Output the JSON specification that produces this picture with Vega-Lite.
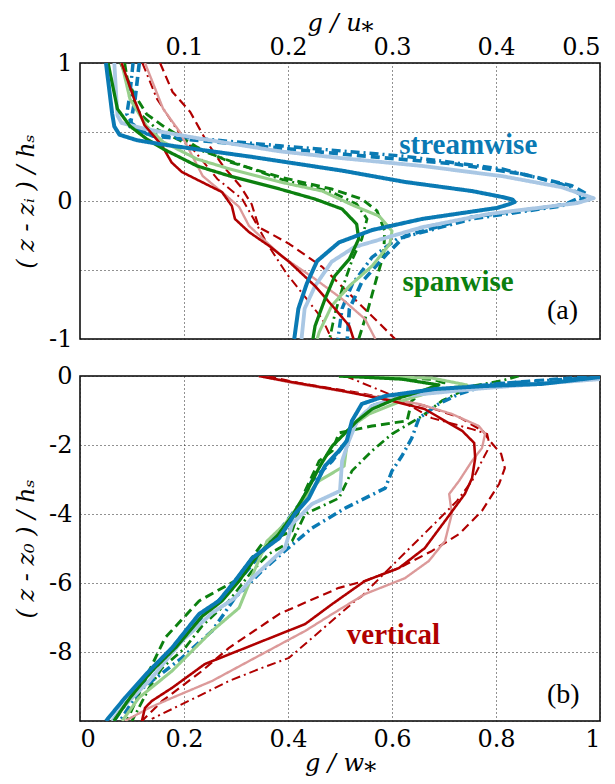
{
"$schema": "https://vega.github.io/schema/vega-lite/v6.json",
"background": "white",
"padding": {"left": 13, "top": 10, "right": 5, "bottom": 0},
"spacing": 11,
"config": {
 "view": {"stroke": "black", "strokeWidth": 1.5},
 "axis": {"grid": true, "gridDash": [1, 3], "gridColor": "#222", "gridWidth": 1, "domain": false, "ticks": false,
  "labelFont": "DejaVu Serif", "labelFontSize": 24, "labelColor": "black", "labelPadding": 4,
  "titleFont": "DejaVu Serif", "titleFontSize": 24, "titleFontWeight": "normal", "titleFontStyle": "italic", "titleColor": "black", "titlePadding": 2}
},
"datasets": {
"a": [
{"s":"v4","x":0.06,"y":1},{"s":"v4","x":0.074,"y":0.74},{"s":"v4","x":0.093,"y":0.52},{"s":"v4","x":0.1125,"y":0.34},{"s":"v4","x":0.132,"y":0.16},{"s":"v4","x":0.156,"y":0.014},{"s":"v4","x":0.167,"y":-0.13},{"s":"v4","x":0.18,"y":-0.31},{"s":"v4","x":0.199,"y":-0.53},{"s":"v4","x":0.218,"y":-0.71},{"s":"v4","x":0.233,"y":-0.855},{"s":"v4","x":0.242,"y":-1.0},
{"s":"v3","x":0.077,"y":1},{"s":"v3","x":0.089,"y":0.79},{"s":"v3","x":0.106,"y":0.645},{"s":"v3","x":0.122,"y":0.428},{"s":"v3","x":0.1375,"y":0.254},{"s":"v3","x":0.154,"y":0.109},{"s":"v3","x":0.165,"y":-0.022},{"s":"v3","x":0.172,"y":-0.19},{"s":"v3","x":0.201,"y":-0.31},{"s":"v3","x":0.233,"y":-0.478},{"s":"v3","x":0.264,"y":-0.71},{"s":"v3","x":0.2856,"y":-0.87},{"s":"v3","x":0.303,"y":-1.0},
{"s":"p4","x":0.043,"y":1},{"s":"p4","x":0.048,"y":0.775},{"s":"p4","x":0.058,"y":0.63},{"s":"p4","x":0.074,"y":0.52},{"s":"p4","x":0.1125,"y":0.377},{"s":"p4","x":0.192,"y":0.16},{"s":"p4","x":0.242,"y":0.065},{"s":"p4","x":0.266,"y":-0.022},{"s":"p4","x":0.276,"y":-0.13},{"s":"p4","x":0.271,"y":-0.275},{"s":"p4","x":0.262,"y":-0.42},{"s":"p4","x":0.252,"y":-0.64},{"s":"p4","x":0.245,"y":-0.82},{"s":"p4","x":0.24,"y":-1.0},
{"s":"p3","x":0.039,"y":1},{"s":"p3","x":0.051,"y":0.79},{"s":"p3","x":0.064,"y":0.63},{"s":"p3","x":0.08,"y":0.543},{"s":"p3","x":0.1125,"y":0.39},{"s":"p3","x":0.144,"y":0.283},{"s":"p3","x":0.192,"y":0.174},{"s":"p3","x":0.242,"y":0.087},{"s":"p3","x":0.271,"y":0.014},{"s":"p3","x":0.2856,"y":-0.072},{"s":"p3","x":0.293,"y":-0.217},{"s":"p3","x":0.292,"y":-0.384},{"s":"p3","x":0.285,"y":-0.565},{"s":"p3","x":0.277,"y":-0.783},{"s":"p3","x":0.268,"y":-1.0},
{"s":"s4","x":0.051,"y":1},{"s":"s4","x":0.048,"y":0.775},{"s":"s4","x":0.045,"y":0.63},{"s":"s4","x":0.05,"y":0.56},{"s":"s4","x":0.064,"y":0.486},{"s":"s4","x":0.192,"y":0.4},{"s":"s4","x":0.31,"y":0.326},{"s":"s4","x":0.406,"y":0.232},{"s":"s4","x":0.463,"y":0.123},{"s":"s4","x":0.484,"y":0.036},{"s":"s4","x":0.463,"y":-0.036},{"s":"s4","x":0.377,"y":-0.13},{"s":"s4","x":0.305,"y":-0.275},{"s":"s4","x":0.281,"y":-0.406},{"s":"s4","x":0.262,"y":-0.6},{"s":"s4","x":0.252,"y":-0.78},{"s":"s4","x":0.248,"y":-1.0},
{"s":"s3","x":0.057,"y":1},{"s":"s3","x":0.053,"y":0.74},{"s":"s3","x":0.048,"y":0.54},{"s":"s3","x":0.07,"y":0.47},{"s":"s3","x":0.192,"y":0.384},{"s":"s3","x":0.252,"y":0.34},{"s":"s3","x":0.361,"y":0.268},{"s":"s3","x":0.425,"y":0.196},{"s":"s3","x":0.473,"y":0.11},{"s":"s3","x":0.489,"y":0.043},{"s":"s3","x":0.478,"y":-0.007},{"s":"s3","x":0.457,"y":-0.036},{"s":"s3","x":0.377,"y":-0.116},{"s":"s3","x":0.3125,"y":-0.254},{"s":"s3","x":0.295,"y":-0.384},{"s":"s3","x":0.271,"y":-0.587},{"s":"s3","x":0.259,"y":-0.783},{"s":"s3","x":0.257,"y":-1.0},
{"s":"v2","x":0.0625,"y":1},{"s":"v2","x":0.08,"y":0.667},{"s":"v2","x":0.096,"y":0.5},{"s":"v2","x":0.106,"y":0.355},{"s":"v2","x":0.118,"y":0.181},{"s":"v2","x":0.141,"y":0.036},{"s":"v2","x":0.153,"y":-0.043},{"s":"v2","x":0.1625,"y":-0.18},{"s":"v2","x":0.194,"y":-0.4},{"s":"v2","x":0.226,"y":-0.565},{"s":"v2","x":0.252,"y":-0.71},{"s":"v2","x":0.274,"y":-0.855},{"s":"v2","x":0.284,"y":-1.0},
{"s":"p2","x":0.04,"y":1},{"s":"p2","x":0.048,"y":0.74},{"s":"p2","x":0.064,"y":0.543},{"s":"p2","x":0.08,"y":0.428},{"s":"p2","x":0.1125,"y":0.304},{"s":"p2","x":0.144,"y":0.232},{"s":"p2","x":0.192,"y":0.138},{"s":"p2","x":0.233,"y":0.072},{"s":"p2","x":0.264,"y":-0.036},{"s":"p2","x":0.2875,"y":-0.109},{"s":"p2","x":0.3,"y":-0.217},{"s":"p2","x":0.298,"y":-0.31},{"s":"p2","x":0.281,"y":-0.47},{"s":"p2","x":0.259,"y":-0.616},{"s":"p2","x":0.242,"y":-0.76},{"s":"p2","x":0.23,"y":-0.95},{"s":"p2","x":0.228,"y":-1.0},
{"s":"s2","x":0.033,"y":1},{"s":"s2","x":0.035,"y":0.74},{"s":"s2","x":0.036,"y":0.62},{"s":"s2","x":0.04,"y":0.565},{"s":"s2","x":0.064,"y":0.52},{"s":"s2","x":0.117,"y":0.45},{"s":"s2","x":0.192,"y":0.36},{"s":"s2","x":0.252,"y":0.31},{"s":"s2","x":0.329,"y":0.254},{"s":"s2","x":0.406,"y":0.18},{"s":"s2","x":0.463,"y":0.1},{"s":"s2","x":0.494,"y":0.02},{"s":"s2","x":0.478,"y":-0.015},{"s":"s2","x":0.393,"y":-0.094},{"s":"s2","x":0.329,"y":-0.19},{"s":"s2","x":0.264,"y":-0.333},{"s":"s2","x":0.242,"y":-0.44},{"s":"s2","x":0.226,"y":-0.616},{"s":"s2","x":0.216,"y":-0.78},{"s":"s2","x":0.213,"y":-1.0},
{"s":"v1","x":0.04,"y":1},{"s":"v1","x":0.052,"y":0.74},{"s":"v1","x":0.062,"y":0.55},{"s":"v1","x":0.079,"y":0.4},{"s":"v1","x":0.088,"y":0.28},{"s":"v1","x":0.098,"y":0.21},{"s":"v1","x":0.117,"y":0.138},{"s":"v1","x":0.1365,"y":0.065},{"s":"v1","x":0.146,"y":-0.036},{"s":"v1","x":0.149,"y":-0.13},{"s":"v1","x":0.1625,"y":-0.225},{"s":"v1","x":0.182,"y":-0.326},{"s":"v1","x":0.201,"y":-0.44},{"s":"v1","x":0.226,"y":-0.616},{"s":"v1","x":0.245,"y":-0.78},{"s":"v1","x":0.259,"y":-0.906},{"s":"v1","x":0.263,"y":-1.0},
{"s":"p1","x":0.027,"y":1},{"s":"p1","x":0.036,"y":0.667},{"s":"p1","x":0.048,"y":0.543},{"s":"p1","x":0.064,"y":0.45},{"s":"p1","x":0.08,"y":0.377},{"s":"p1","x":0.1125,"y":0.254},{"s":"p1","x":0.144,"y":0.181},{"s":"p1","x":0.192,"y":0.087},{"s":"p1","x":0.226,"y":0.014},{"s":"p1","x":0.252,"y":-0.058},{"s":"p1","x":0.266,"y":-0.167},{"s":"p1","x":0.268,"y":-0.275},{"s":"p1","x":0.259,"y":-0.42},{"s":"p1","x":0.245,"y":-0.543},{"s":"p1","x":0.2356,"y":-0.71},{"s":"p1","x":0.226,"y":-0.906},{"s":"p1","x":0.224,"y":-1.0},
{"s":"s1","x":0.025,"y":1},{"s":"s1","x":0.031,"y":0.63},{"s":"s1","x":0.033,"y":0.54},{"s":"s1","x":0.038,"y":0.48},{"s":"s1","x":0.055,"y":0.44},{"s":"s1","x":0.079,"y":0.41},{"s":"s1","x":0.165,"y":0.32},{"s":"s1","x":0.252,"y":0.22},{"s":"s1","x":0.3125,"y":0.138},{"s":"s1","x":0.377,"y":0.072},{"s":"s1","x":0.406,"y":0.029},{"s":"s1","x":0.416,"y":0.01},{"s":"s1","x":0.418,"y":-0.007},{"s":"s1","x":0.412,"y":-0.025},{"s":"s1","x":0.401,"y":-0.05},{"s":"s1","x":0.329,"y":-0.13},{"s":"s1","x":0.281,"y":-0.21},{"s":"s1","x":0.249,"y":-0.3},{"s":"s1","x":0.228,"y":-0.435},{"s":"s1","x":0.218,"y":-0.6},{"s":"s1","x":0.21,"y":-0.78},{"s":"s1","x":0.206,"y":-1.0}
],
"b": [
{"s":"v4","x":0.51,"y":0.0},{"s":"v4","x":0.594,"y":-0.52},{"s":"v4","x":0.677,"y":-1.22},{"s":"v4","x":0.754,"y":-1.54},{"s":"v4","x":0.783,"y":-1.68},{"s":"v4","x":0.788,"y":-2.03},{"s":"v4","x":0.773,"y":-2.46},{"s":"v4","x":0.754,"y":-3.04},{"s":"v4","x":0.725,"y":-3.62},{"s":"v4","x":0.687,"y":-4.2},{"s":"v4","x":0.638,"y":-4.93},{"s":"v4","x":0.59,"y":-5.65},{"s":"v4","x":0.542,"y":-6.38},{"s":"v4","x":0.529,"y":-6.52},{"s":"v4","x":0.402,"y":-8.17},{"s":"v4","x":0.35,"y":-8.46},{"s":"v4","x":0.2865,"y":-8.84},{"s":"v4","x":0.221,"y":-9.33},{"s":"v4","x":0.138,"y":-9.94},
{"s":"v3","x":0.36,"y":0.0},{"s":"v3","x":0.42,"y":-0.2},{"s":"v3","x":0.54,"y":-0.5},{"s":"v3","x":0.66,"y":-0.85},{"s":"v3","x":0.73,"y":-1.2},{"s":"v3","x":0.775,"y":-1.6},{"s":"v3","x":0.788,"y":-1.88},{"s":"v3","x":0.81,"y":-2.26},{"s":"v3","x":0.817,"y":-2.67},{"s":"v3","x":0.806,"y":-3.13},{"s":"v3","x":0.773,"y":-3.91},{"s":"v3","x":0.729,"y":-4.58},{"s":"v3","x":0.677,"y":-5.07},{"s":"v3","x":0.613,"y":-5.57},{"s":"v3","x":0.548,"y":-5.94},{"s":"v3","x":0.498,"y":-6.14},{"s":"v3","x":0.383,"y":-6.9},{"s":"v3","x":0.2865,"y":-7.88},{"s":"v3","x":0.2346,"y":-8.55},{"s":"v3","x":0.158,"y":-9.42},{"s":"v3","x":0.119,"y":-10.0},
{"s":"p4","x":0.844,"y":0.0},{"s":"p4","x":0.81,"y":-0.14},{"s":"p4","x":0.754,"y":-0.29},{"s":"p4","x":0.696,"y":-0.72},{"s":"p4","x":0.658,"y":-1.16},{"s":"p4","x":0.6,"y":-1.68},{"s":"p4","x":0.5615,"y":-2.17},{"s":"p4","x":0.523,"y":-2.75},{"s":"p4","x":0.498,"y":-3.54},{"s":"p4","x":0.433,"y":-4.0},{"s":"p4","x":0.408,"y":-4.78},{"s":"p4","x":0.363,"y":-5.16},{"s":"p4","x":0.331,"y":-5.65},{"s":"p4","x":0.2865,"y":-6.52},{"s":"p4","x":0.2346,"y":-7.25},{"s":"p4","x":0.202,"y":-7.88},{"s":"p4","x":0.158,"y":-8.46},{"s":"p4","x":0.133,"y":-9.04},{"s":"p4","x":0.1,"y":-10.0},
{"s":"p3","x":0.55,"y":0.0},{"s":"p3","x":0.68,"y":-0.1},{"s":"p3","x":0.7,"y":-0.2},{"s":"p3","x":0.667,"y":-0.38},{"s":"p3","x":0.638,"y":-0.72},{"s":"p3","x":0.629,"y":-1.3},{"s":"p3","x":0.5615,"y":-1.45},{"s":"p3","x":0.498,"y":-1.65},{"s":"p3","x":0.485,"y":-2.17},{"s":"p3","x":0.46,"y":-2.46},{"s":"p3","x":0.433,"y":-3.33},{"s":"p3","x":0.408,"y":-4.49},{"s":"p3","x":0.35,"y":-4.87},{"s":"p3","x":0.298,"y":-5.94},{"s":"p3","x":0.229,"y":-6.52},{"s":"p3","x":0.1635,"y":-7.59},{"s":"p3","x":0.133,"y":-8.55},{"s":"p3","x":0.11,"y":-9.33},{"s":"p3","x":0.09,"y":-10.0},
{"s":"s4","x":1.0,"y":-0.03},{"s":"s4","x":0.888,"y":-0.14},{"s":"s4","x":0.792,"y":-0.23},{"s":"s4","x":0.729,"y":-0.52},{"s":"s4","x":0.69,"y":-0.81},{"s":"s4","x":0.652,"y":-1.22},{"s":"s4","x":0.638,"y":-1.8},{"s":"s4","x":0.619,"y":-2.32},{"s":"s4","x":0.6,"y":-2.75},{"s":"s4","x":0.587,"y":-3.25},{"s":"s4","x":0.51,"y":-3.83},{"s":"s4","x":0.446,"y":-4.41},{"s":"s4","x":0.394,"y":-5.07},{"s":"s4","x":0.35,"y":-5.65},{"s":"s4","x":0.298,"y":-6.43},{"s":"s4","x":0.254,"y":-7.39},{"s":"s4","x":0.196,"y":-8.17},{"s":"s4","x":0.1135,"y":-9.13},{"s":"s4","x":0.077,"y":-10.0},
{"s":"s3","x":1.0,"y":0.0},{"s":"s3","x":0.85,"y":-0.17},{"s":"s3","x":0.735,"y":-0.32},{"s":"s3","x":0.619,"y":-0.58},{"s":"s3","x":0.5615,"y":-0.87},{"s":"s3","x":0.533,"y":-1.3},{"s":"s3","x":0.513,"y":-1.88},{"s":"s3","x":0.485,"y":-2.46},{"s":"s3","x":0.446,"y":-3.04},{"s":"s3","x":0.427,"y":-3.62},{"s":"s3","x":0.398,"y":-4.2},{"s":"s3","x":0.36,"y":-4.93},{"s":"s3","x":0.321,"y":-5.65},{"s":"s3","x":0.288,"y":-6.23},{"s":"s3","x":0.244,"y":-6.81},{"s":"s3","x":0.196,"y":-7.68},{"s":"s3","x":0.138,"y":-8.55},{"s":"s3","x":0.096,"y":-9.33},{"s":"s3","x":0.065,"y":-10.0},
{"s":"v2","x":0.344,"y":0.0},{"s":"v2","x":0.408,"y":-0.2},{"s":"v2","x":0.523,"y":-0.49},{"s":"v2","x":0.652,"y":-0.81},{"s":"v2","x":0.715,"y":-1.1},{"s":"v2","x":0.767,"y":-1.45},{"s":"v2","x":0.779,"y":-1.68},{"s":"v2","x":0.773,"y":-2.09},{"s":"v2","x":0.754,"y":-2.46},{"s":"v2","x":0.729,"y":-3.04},{"s":"v2","x":0.71,"y":-3.42},{"s":"v2","x":0.715,"y":-4.0},{"s":"v2","x":0.702,"y":-4.78},{"s":"v2","x":0.671,"y":-5.36},{"s":"v2","x":0.625,"y":-5.86},{"s":"v2","x":0.548,"y":-6.32},{"s":"v2","x":0.485,"y":-6.9},{"s":"v2","x":0.433,"y":-7.39},{"s":"v2","x":0.3365,"y":-8.17},{"s":"v2","x":0.254,"y":-8.84},{"s":"v2","x":0.177,"y":-9.33},{"s":"v2","x":0.133,"y":-9.62},{"s":"v2","x":0.0865,"y":-10.0},
{"s":"p2","x":0.498,"y":0.0},{"s":"p2","x":0.677,"y":-0.06},{"s":"p2","x":0.744,"y":-0.26},{"s":"p2","x":0.683,"y":-0.43},{"s":"p2","x":0.619,"y":-0.72},{"s":"p2","x":0.556,"y":-1.1},{"s":"p2","x":0.523,"y":-1.45},{"s":"p2","x":0.513,"y":-2.03},{"s":"p2","x":0.508,"y":-2.61},{"s":"p2","x":0.46,"y":-3.04},{"s":"p2","x":0.427,"y":-3.62},{"s":"p2","x":0.394,"y":-4.29},{"s":"p2","x":0.36,"y":-4.78},{"s":"p2","x":0.335,"y":-5.65},{"s":"p2","x":0.306,"y":-6.72},{"s":"p2","x":0.254,"y":-7.39},{"s":"p2","x":0.177,"y":-8.55},{"s":"p2","x":0.113,"y":-9.33},{"s":"p2","x":0.081,"y":-10.0},
{"s":"s2","x":1.0,"y":-0.09},{"s":"s2","x":0.779,"y":-0.35},{"s":"s2","x":0.619,"y":-0.58},{"s":"s2","x":0.5615,"y":-0.87},{"s":"s2","x":0.533,"y":-1.3},{"s":"s2","x":0.517,"y":-1.88},{"s":"s2","x":0.504,"y":-2.46},{"s":"s2","x":0.5,"y":-3.33},{"s":"s2","x":0.446,"y":-3.71},{"s":"s2","x":0.408,"y":-4.29},{"s":"s2","x":0.394,"y":-4.99},{"s":"s2","x":0.331,"y":-5.86},{"s":"s2","x":0.298,"y":-6.43},{"s":"s2","x":0.254,"y":-6.87},{"s":"s2","x":0.196,"y":-7.68},{"s":"s2","x":0.133,"y":-8.84},{"s":"s2","x":0.081,"y":-9.62},{"s":"s2","x":0.0615,"y":-10.0},
{"s":"v1","x":0.344,"y":0.0},{"s":"v1","x":0.394,"y":-0.14},{"s":"v1","x":0.504,"y":-0.43},{"s":"v1","x":0.6,"y":-0.72},{"s":"v1","x":0.663,"y":-0.96},{"s":"v1","x":0.702,"y":-1.3},{"s":"v1","x":0.735,"y":-1.59},{"s":"v1","x":0.758,"y":-1.94},{"s":"v1","x":0.76,"y":-2.38},{"s":"v1","x":0.754,"y":-2.96},{"s":"v1","x":0.74,"y":-3.42},{"s":"v1","x":0.702,"y":-4.2},{"s":"v1","x":0.663,"y":-4.99},{"s":"v1","x":0.613,"y":-5.57},{"s":"v1","x":0.548,"y":-5.94},{"s":"v1","x":0.485,"y":-6.61},{"s":"v1","x":0.433,"y":-7.19},{"s":"v1","x":0.3365,"y":-7.77},{"s":"v1","x":0.24,"y":-8.35},{"s":"v1","x":0.177,"y":-9.04},{"s":"v1","x":0.138,"y":-9.42},{"s":"v1","x":0.125,"y":-9.62},{"s":"v1","x":0.119,"y":-10.0},
{"s":"p1","x":0.498,"y":0.0},{"s":"p1","x":0.619,"y":-0.09},{"s":"p1","x":0.69,"y":-0.26},{"s":"p1","x":0.658,"y":-0.43},{"s":"p1","x":0.606,"y":-0.67},{"s":"p1","x":0.5615,"y":-0.96},{"s":"p1","x":0.533,"y":-1.3},{"s":"p1","x":0.51,"y":-1.65},{"s":"p1","x":0.485,"y":-2.03},{"s":"p1","x":0.4615,"y":-2.61},{"s":"p1","x":0.4365,"y":-3.33},{"s":"p1","x":0.408,"y":-4.06},{"s":"p1","x":0.379,"y":-4.64},{"s":"p1","x":0.34,"y":-5.22},{"s":"p1","x":0.306,"y":-5.94},{"s":"p1","x":0.273,"y":-6.52},{"s":"p1","x":0.235,"y":-6.96},{"s":"p1","x":0.1865,"y":-7.83},{"s":"p1","x":0.138,"y":-8.55},{"s":"p1","x":0.096,"y":-9.33},{"s":"p1","x":0.065,"y":-10.0},
{"s":"s1","x":1.0,"y":-0.03},{"s":"s1","x":0.888,"y":-0.23},{"s":"s1","x":0.779,"y":-0.29},{"s":"s1","x":0.683,"y":-0.377},{"s":"s1","x":0.587,"y":-0.58},{"s":"s1","x":0.542,"y":-0.81},{"s":"s1","x":0.523,"y":-1.3},{"s":"s1","x":0.513,"y":-1.88},{"s":"s1","x":0.498,"y":-2.17},{"s":"s1","x":0.471,"y":-2.61},{"s":"s1","x":0.44,"y":-3.54},{"s":"s1","x":0.413,"y":-4.0},{"s":"s1","x":0.383,"y":-4.7},{"s":"s1","x":0.331,"y":-5.28},{"s":"s1","x":0.298,"y":-5.94},{"s":"s1","x":0.267,"y":-6.52},{"s":"s1","x":0.229,"y":-6.9},{"s":"s1","x":0.177,"y":-7.88},{"s":"s1","x":0.133,"y":-8.55},{"s":"s1","x":0.0865,"y":-9.33},{"s":"s1","x":0.05,"y":-10.0}
],
"ta": [{"label":"streamwise","s":"s1","x":0.307,"y":0.34},{"label":"spanwise","s":"p1","x":0.31,"y":-0.652}],
"tb": [{"label":"vertical","s":"v1","x":0.513,"y":-7.77}],
"la": [{"label":"(a)","x":0.449,"y":-0.855}],
"lb": [{"label":"(b)","x":0.898,"y":-9.48}]
},
"resolve": {"scale": {"color": "shared", "strokeWidth": "shared", "strokeDash": "shared"}},
"vconcat": [
{
 "width": 520, "height": 276,
 "encoding": {
  "x": {"field": "x", "type": "quantitative", "scale": {"domain": [0, 0.5], "nice": false, "zero": false},
   "axis": {"orient": "top", "values": [0.1, 0.2, 0.3, 0.4, 0.5], "labelExpr": "toString(datum.value)", "title": "g / u⁎", "labelPadding": 4, "titlePadding": 0}},
  "y": {"field": "y", "type": "quantitative", "scale": {"domain": [-1, 1], "nice": false, "zero": false},
   "axis": {"values": [-1, -0.5, 0, 0.5, 1], "labelExpr": "datum.value == 1 ? '1' : datum.value == 0 ? '0' : datum.value == -1 ? '-1' : ''", "title": "( z - zᵢ ) / hₛ", "labelPadding": 8, "titlePadding": 10}}
 },
 "layer": [
  {"data": {"name": "a"}, "mark": {"type": "line", "clip": true, "strokeJoin": "round"},
   "encoding": {
    "order": {"field": "y", "sort": "descending"},
    "color": {"field": "s", "type": "nominal", "legend": null, "scale": {"domain": ["s1","s2","s3","s4","p1","p2","p3","p4","v1","v2","v3","v4"], "range": ["#0a7ab4","#a9c7e4","#0a7ab4","#0a7ab4","#0c800f","#98d08c","#0c800f","#0c800f","#b00000","#dc9a9a","#b00000","#b00000"]}},
    "strokeWidth": {"field": "s", "type": "nominal", "legend": null, "scale": {"domain": ["s1","s2","s3","s4","p1","p2","p3","p4","v1","v2","v3","v4"], "range": [4,2,1.8,1.8,4,2,1.8,1.8,4,2,1.8,1.8]}},
    "strokeDash": {"field": "s", "type": "nominal", "legend": null, "scale": {"domain": ["s1","s2","s3","s4","p1","p2","p3","p4","v1","v2","v3","v4"], "range": [[1,0],[1,0],[9,5],[9,4,2,4],[1,0],[1,0],[9,5],[9,4,2,4],[1,0],[1,0],[9,5],[9,4,2,4]]}}
   }},
  {"data": {"name": "ta"}, "mark": {"type": "text", "font": "Liberation Serif", "fontWeight": "bold", "fontSize": 29, "align": "left", "baseline": "alphabetic"},
   "encoding": {"text": {"field": "label"}, "color": {"field": "s", "type": "nominal", "legend": null}}},
  {"data": {"name": "la"}, "mark": {"type": "text", "font": "Liberation Serif", "fontSize": 28, "align": "left", "baseline": "alphabetic", "color": "black"},
   "encoding": {"text": {"field": "label"}}}
 ]
},
{
 "width": 520, "height": 345,
 "encoding": {
  "x": {"field": "x", "type": "quantitative", "scale": {"domain": [0, 1], "nice": false, "zero": false},
   "axis": {"orient": "bottom", "values": [0, 0.2, 0.4, 0.6, 0.8, 1], "labelExpr": "toString(datum.value)", "title": "g / w⁎", "labelPadding": 6, "titlePadding": 0}},
  "y": {"field": "y", "type": "quantitative", "scale": {"domain": [-10, 0], "nice": false, "zero": false},
   "axis": {"values": [0, -2, -4, -6, -8, -10], "labelExpr": "datum.value == -10 ? '' : toString(datum.value)", "title": "( z - z₀ ) / hₛ", "labelPadding": 8, "titlePadding": 10}}
 },
 "layer": [
  {"data": {"name": "b"}, "mark": {"type": "line", "clip": true, "strokeJoin": "round"},
   "encoding": {
    "order": {"field": "y", "sort": "descending"},
    "color": {"field": "s", "type": "nominal", "legend": null},
    "strokeWidth": {"field": "s", "type": "nominal", "legend": null},
    "strokeDash": {"field": "s", "type": "nominal", "legend": null}
   }},
  {"data": {"name": "tb"}, "mark": {"type": "text", "font": "Liberation Serif", "fontWeight": "bold", "fontSize": 29, "align": "left", "baseline": "alphabetic"},
   "encoding": {"text": {"field": "label"}, "color": {"field": "s", "type": "nominal", "legend": null}}},
  {"data": {"name": "lb"}, "mark": {"type": "text", "font": "Liberation Serif", "fontSize": 28, "align": "left", "baseline": "alphabetic", "color": "black"},
   "encoding": {"text": {"field": "label"}}}
 ]
}
]
}
